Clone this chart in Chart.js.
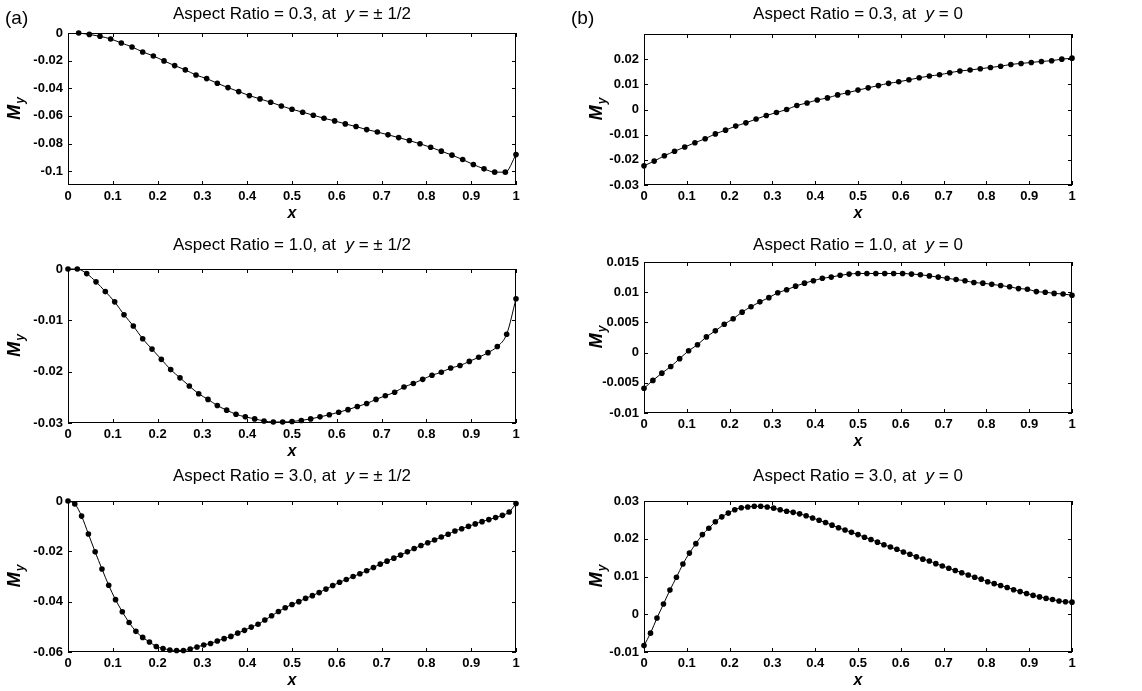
<!DOCTYPE html>
<html>
<head>
<meta charset="utf-8">
<script src="https://cdn.jsdelivr.net/npm/chart.js@4.4.1/dist/chart.umd.min.js"></script>
<style>
  body { margin: 0; background: #fff; }
  #wrap { position: relative; width: 1142px; height: 691px; background: #fff; }
  #wrap canvas { position: absolute; }
</style>
</head>
<body>
<div id="wrap"></div>
<script>
// x grids of the three meshes
const xTop = [0, .0238, .0476, .0714, .0952, .1190, .1429, .1667, .1905, .2143, .2381, .2619, .2857, .3095, .3333,
  .3571, .3810, .4048, .4286, .4524, .4762, .5, .5238, .5476, .5714, .5952, .6190, .6429, .6667, .6905, .7143,
  .7381, .7619, .7857, .8095, .8333, .8571, .8810, .9048, .9286, .9524, .9762, 1]
const xMid = [0, .0208, .0417, .0625, .0833, .1042, .125, .1458, .1667, .1875, .2083, .2292, .25, .2708, .2917,
  .3125, .3333, .3542, .375, .3958, .4167, .4375, .4583, .4792, .5, .5208, .5417, .5625, .5833, .6042, .625,
  .6458, .6667, .6875, .7083, .7292, .75, .7708, .7917, .8125, .8333, .8542, .875, .8958, .9167, .9375, .9583,
  .9792, 1]
const xBot = [0, .0152, .0303, .0455, .0606, .0758, .0909, .1061, .1212, .1364, .1515, .1667, .1818, .1970, .2121,
  .2273, .2424, .2576, .2727, .2879, .3030, .3182, .3333, .3485, .3636, .3788, .3939, .4091, .4242, .4394, .4545,
  .4697, .4848, .5, .5152, .5303, .5455, .5606, .5758, .5909, .6061, .6212, .6364, .6515, .6667, .6818, .6970,
  .7121, .7273, .7424, .7576, .7727, .7879, .8030, .8182, .8333, .8485, .8636, .8788, .8939, .9091, .9242, .9394,
  .9545, .9697, .9848, 1]

// M_y values
const my03Edge = [null, 0, -0.0010, -0.0024, -0.0043, -0.0072, -0.0101, -0.0137, -0.0166, -0.0202, -0.0236,
  -0.0267, -0.0304, -0.0330, -0.0364, -0.0395, -0.0424, -0.0453, -0.0477, -0.0501, -0.0528, -0.0552, -0.0573,
  -0.0595, -0.0617, -0.0636, -0.0658, -0.0677, -0.0699, -0.0716, -0.0737, -0.0757, -0.0778, -0.0802, -0.0827,
  -0.0855, -0.0884, -0.0916, -0.0952, -0.0983, -0.1007, -0.1007, -0.0880]
const my03Mid = [-0.0224, -0.0205, -0.0184, -0.0166, -0.0149, -0.0132, -0.0116, -0.0097, -0.0082, -0.0066,
  -0.0053, -0.0038, -0.0024, -0.0012, 0.0000, 0.0016, 0.0026, 0.0038, 0.0046, 0.0058, 0.0067, 0.0077, 0.0086,
  0.0095, 0.0104, 0.0110, 0.0118, 0.0126, 0.0133, 0.0138, 0.0146, 0.0153, 0.0157, 0.0162, 0.0167, 0.0172,
  0.0179, 0.0183, 0.0187, 0.0191, 0.0194, 0.0200, 0.0204]
const my10Edge = [0, 0, -0.0009, -0.0025, -0.0044, -0.0064, -0.0089, -0.0111, -0.0136, -0.0156, -0.0176,
  -0.0196, -0.0212, -0.0228, -0.0243, -0.0254, -0.0266, -0.0275, -0.0283, -0.0288, -0.0292, -0.0296, -0.0298,
  -0.0298, -0.0297, -0.0295, -0.0292, -0.0288, -0.0284, -0.0279, -0.0274, -0.0268, -0.0262, -0.0254, -0.0247,
  -0.0240, -0.0230, -0.0223, -0.0215, -0.0207, -0.0201, -0.0193, -0.0188, -0.0180, -0.0172, -0.0163, -0.0151,
  -0.0127, -0.0058]
const my10Mid = [-0.0059, -0.0046, -0.0034, -0.0023, -0.0010, 0.0003, 0.0013, 0.0026, 0.0036, 0.0047, 0.0056,
  0.0067, 0.0076, 0.0084, 0.0091, 0.0099, 0.0104, 0.0110, 0.0115, 0.0119, 0.0123, 0.0125, 0.0128, 0.0130,
  0.0131, 0.0131, 0.0131, 0.0131, 0.0131, 0.0131, 0.0130, 0.0129, 0.0127, 0.0125, 0.0123, 0.0121, 0.0119,
  0.0116, 0.0115, 0.0113, 0.0111, 0.0109, 0.0106, 0.0105, 0.0101, 0.0100, 0.0098, 0.0097, 0.0095]
const my30Edge = [0, -0.0012, -0.0060, -0.0131, -0.0202, -0.0270, -0.0335, -0.0392, -0.0440, -0.0483, -0.0518,
  -0.0542, -0.0560, -0.0578, -0.0586, -0.0592, -0.0594, -0.0594, -0.0588, -0.0580, -0.0572, -0.0566, -0.0556,
  -0.0547, -0.0538, -0.0525, -0.0514, -0.0501, -0.0490, -0.0473, -0.0456, -0.0439, -0.0424, -0.0411, -0.0400,
  -0.0387, -0.0376, -0.0364, -0.0350, -0.0336, -0.0323, -0.0312, -0.0300, -0.0289, -0.0277, -0.0264, -0.0251,
  -0.0239, -0.0227, -0.0215, -0.0202, -0.0189, -0.0177, -0.0166, -0.0155, -0.0143, -0.0132, -0.0119, -0.0110,
  -0.0101, -0.0091, -0.0082, -0.0074, -0.0066, -0.0057, -0.0044, -0.0010]
const my30Mid = [-0.0083, -0.0050, -0.0010, 0.0027, 0.0064, 0.0098, 0.0133, 0.0162, 0.0187, 0.0211, 0.0228,
  0.0245, 0.0258, 0.0268, 0.0277, 0.0282, 0.0284, 0.0286, 0.0286, 0.0284, 0.0281, 0.0277, 0.0273, 0.0270,
  0.0266, 0.0261, 0.0255, 0.0249, 0.0243, 0.0236, 0.0229, 0.0223, 0.0217, 0.0211, 0.0204, 0.0198, 0.0191,
  0.0184, 0.0178, 0.0172, 0.0165, 0.0159, 0.0152, 0.0146, 0.0141, 0.0134, 0.0128, 0.0122, 0.0116, 0.0110,
  0.0104, 0.0098, 0.0093, 0.0086, 0.0081, 0.0076, 0.0071, 0.0065, 0.0060, 0.0055, 0.0050, 0.0046, 0.0042,
  0.0039, 0.0035, 0.0033, 0.0032]

// tick values
const xTicks = [0, 0.1, 0.2, 0.3, 0.4, 0.5, 0.6, 0.7, 0.8, 0.9, 1]
const yTicks03Edge = [-0.1, -0.08, -0.06, -0.04, -0.02, 0]
const yTicks03Mid = [-0.03, -0.02, -0.01, 0, 0.01, 0.02]
const yTicks10Edge = [-0.03, -0.02, -0.01, 0]
const yTicks10Mid = [-0.01, -0.005, 0, 0.005, 0.01, 0.015]
const yTicks30Edge = [-0.06, -0.04, -0.02, 0]
const yTicks30Mid = [-0.01, 0, 0.01, 0.02, 0.03]

const titleEdge = ["", "y", " = \u00b1 1/2"]
const titleMid = ["", "y", " = 0"]

// panels: data refs + where they sit on the page
const panels = [
  { xs: xTop, ys: my03Edge, ticks: yTicks03Edge, min: -0.11, max: 0, ar: "0.3", t: titleEdge, tag: "(a)",
    cell: [0, 0, 560, 230], plot: [68, 33, 516, 185], titleY: 14 },
  { xs: xTop, ys: my03Mid, ticks: yTicks03Mid, min: -0.03, max: 0.03, ar: "0.3", t: titleMid, tag: "(b)",
    cell: [560, 0, 1142, 230], plot: [644, 34, 1072, 185], titleY: 14 },
  { xs: xMid, ys: my10Edge, ticks: yTicks10Edge, min: -0.03, max: 0, ar: "1.0", t: titleEdge,
    cell: [0, 230, 560, 461], plot: [68, 269, 516, 423], titleY: 245 },
  { xs: xMid, ys: my10Mid, ticks: yTicks10Mid, min: -0.01, max: 0.015, ar: "1.0", t: titleMid,
    cell: [560, 230, 1142, 461], plot: [644, 262, 1072, 413], titleY: 245 },
  { xs: xBot, ys: my30Edge, ticks: yTicks30Edge, min: -0.06, max: 0, ar: "3.0", t: titleEdge,
    cell: [0, 461, 560, 691], plot: [68, 501, 516, 652], titleY: 476 },
  { xs: xBot, ys: my30Mid, ticks: yTicks30Mid, min: -0.01, max: 0.03, ar: "3.0", t: titleMid,
    cell: [560, 461, 1142, 691], plot: [644, 501, 1072, 652], titleY: 476 }
]

const FONT = '"Liberation Sans", Arial, sans-serif'

// box, inward ticks, titles and axis labels
const decor = {
  id: 'decor',
  beforeDatasetsDraw(chart) {
    const ctx = chart.ctx, a = chart.chartArea
    const sx = chart.scales.x, sy = chart.scales.y
    ctx.save()
    ctx.strokeStyle = '#000'
    ctx.lineWidth = 1
    ctx.strokeRect(a.left + 0.5, a.top + 0.5, a.right - a.left - 1, a.bottom - a.top - 1)
    ctx.beginPath()
    sx.ticks.forEach(t => {
      const p = Math.round(sx.getPixelForValue(t.value)) + 0.5
      ctx.moveTo(p, a.bottom); ctx.lineTo(p, a.bottom - 4)
      ctx.moveTo(p, a.top); ctx.lineTo(p, a.top + 4)
    })
    sy.ticks.forEach(t => {
      const p = Math.round(sy.getPixelForValue(t.value)) + 0.5
      ctx.moveTo(a.left, p); ctx.lineTo(a.left + 4, p)
      ctx.moveTo(a.right, p); ctx.lineTo(a.right - 4, p)
    })
    ctx.stroke()
    ctx.restore()
  },
  afterDraw(chart) {
    const o = chart.options.plugins.decor
    const ctx = chart.ctx, a = chart.chartArea
    ctx.save()
    ctx.fillStyle = '#000'
    ctx.textBaseline = 'middle'
    // title with italic y
    const segs = [
      { s: 'Aspect Ratio = ' + o.ar + ', at  ', f: '17px ' + FONT },
      { s: o.t[1], f: 'italic 17px ' + FONT },
      { s: o.t[2], f: '17px ' + FONT }
    ]
    let w = 0
    segs.forEach(g => { ctx.font = g.f; g.w = ctx.measureText(g.s).width; w += g.w })
    let x = (a.left + a.right) / 2 - w / 2
    ctx.textAlign = 'left'
    segs.forEach(g => { ctx.font = g.f; ctx.fillText(g.s, x, o.titleY); x += g.w })
    // x label
    ctx.textAlign = 'center'
    ctx.font = 'italic bold 16px ' + FONT
    ctx.fillText('x', (a.left + a.right) / 2, a.bottom + 29)
    // M_y label, rotated
    ctx.save()
    ctx.translate(o.myX, (a.top + a.bottom) / 2)
    ctx.rotate(-Math.PI / 2)
    ctx.font = 'italic bold 18px ' + FONT
    const mw = ctx.measureText('M').width
    ctx.font = 'italic bold 12px ' + FONT
    const yw = ctx.measureText('y').width
    ctx.textAlign = 'left'
    ctx.font = 'italic bold 18px ' + FONT
    ctx.fillText('M', -(mw + yw) / 2, 0)
    ctx.font = 'italic bold 12px ' + FONT
    ctx.fillText('y', -(mw + yw) / 2 + mw + 1, 6)
    ctx.restore()
    // panel tag
    if (o.tag) {
      ctx.font = '19px ' + FONT
      ctx.textAlign = 'left'
      ctx.fillText(o.tag, o.tagX, 19)
    }
    ctx.restore()
  }
}

const wrap = document.getElementById('wrap')

panels.forEach(p => {
  const [cl, ct, cr, cb] = p.cell
  const [pl, pt, pr, pb] = p.plot
  const cv = document.createElement('canvas')
  cv.width = cr - cl
  cv.height = cb - ct
  cv.style.left = cl + 'px'
  cv.style.top = ct + 'px'
  wrap.appendChild(cv)

  const pts = p.xs.map((x, i) => ({ x: x, y: p.ys[i] }))

  new Chart(cv.getContext('2d'), {
    type: 'scatter',
    data: {
      datasets: [{
        data: pts,
        showLine: true,
        borderColor: '#000',
        borderWidth: 1,
        backgroundColor: '#000',
        pointRadius: 2.8,
        pointBorderWidth: 0,
        pointBackgroundColor: '#000',
        cubicInterpolationMode: 'monotone',
        spanGaps: true,
        clip: false
      }]
    },
    options: {
      responsive: false,
      animation: false,
      events: [],
      layout: { padding: { left: 0, top: pt - ct, right: cr - pr, bottom: 0 } },
      plugins: {
        legend: { display: false },
        tooltip: { enabled: false },
        decor: {
          ar: p.ar, t: p.t, tag: p.tag,
          titleY: p.titleY - ct,
          myX: cl === 0 ? 15 : 37,
          tagX: cl === 0 ? 5 : 11
        }
      },
      scales: {
        x: {
          type: 'linear', min: 0, max: 1,
          grid: { display: false, drawTicks: false },
          border: { display: false },
          afterBuildTicks: s => { s.ticks = xTicks.map(v => ({ value: v })) },
          afterFit: s => { s.height = cb - pb },
          ticks: {
            color: '#000', padding: 4, maxRotation: 0, autoSkip: false,
            font: { family: FONT, size: 13, weight: 'bold' },
            callback: v => String(+v.toFixed(3))
          }
        },
        y: {
          type: 'linear', min: p.min, max: p.max,
          grid: { display: false, drawTicks: false },
          border: { display: false },
          afterBuildTicks: s => { s.ticks = p.ticks.map(v => ({ value: v })) },
          afterFit: s => { s.width = pl - cl },
          ticks: {
            color: '#000', padding: 5, autoSkip: false,
            font: { family: FONT, size: 13, weight: 'bold' },
            callback: v => String(+v.toFixed(3))
          }
        }
      }
    },
    plugins: [decor]
  })
})
</script>
</body>
</html>
